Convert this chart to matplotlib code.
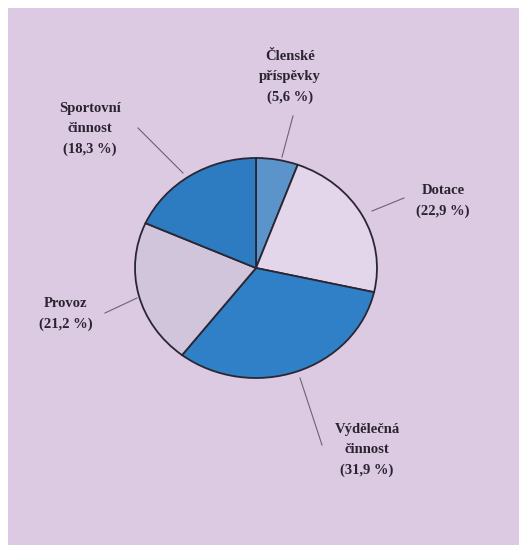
import matplotlib.pyplot as plt
from matplotlib.patches import Rectangle

# data (clockwise from 12 o'clock)
labels = ["Členské\npříspěvky", "Dotace", "Výdělečná\nčinnost", "Provoz", "Sportovní\nčinnost"]
shares = [5.6, 22.9, 31.9, 21.2, 18.3]
colors = ["#5b93cb", "#e3d5ea", "#2f80c6", "#d0c5da", "#2d7cc1"]

# layout in image pixels: pie centre / radii, label centre, leader start & end
W, H = 519, 553
CX, CY, RX, RY = 256, 268, 121, 110
label_xy = [(290, 77), (443, 201), (367, 450), (66, 314), (90, 129)]
leader = [((293, 116), (282, 157)), ((404, 198), (372, 211)),
          ((300, 378), (322, 445)), ((105, 313), (137, 298)),
          ((138, 128), (183, 173))]

def px(x, y):
    return (x - CX) / RX, (CY - y) / RY

fig = plt.figure(figsize=(W / 100, H / 100), dpi=100, facecolor="white")
ax = fig.add_axes([0, 0, 1, 1])

# scanned lilac page
x0, y0 = px(8, 545)
x1, y1 = px(W, 8)
ax.add_patch(Rectangle((x0, y0), x1 - x0, y1 - y0, facecolor="#dcc9e2",
                       edgecolor="none", zorder=0))

wedges, _ = ax.pie(shares, colors=colors, startangle=90, counterclock=False,
                   radius=1, center=(0, 0), frame=True,
                   wedgeprops=dict(edgecolor="#2b2633", linewidth=1.3))
ax.set_xlim(px(0, 0)[0], px(W, 0)[0])
ax.set_ylim(px(0, H)[1], px(0, 0)[1])
ax.set_aspect("auto")
ax.axis("off")

for lab, val, (lx, ly), (a, b) in zip(labels, shares, label_xy, leader):
    txt = f"{lab}\n({str(val).replace('.', ',')} %)"
    ax.text(*px(lx, ly), txt, ha="center", va="center", fontsize=10.5,
            family="Liberation Serif", fontweight="bold", color="#2a2430",
            linespacing=1.75, zorder=5)
    (ax_, ay_), (bx_, by_) = px(*a), px(*b)
    ax.plot([ax_, bx_], [ay_, by_], color="#6e6274", lw=0.8, zorder=4)

fig.savefig("out.png", dpi=100, facecolor="white")
